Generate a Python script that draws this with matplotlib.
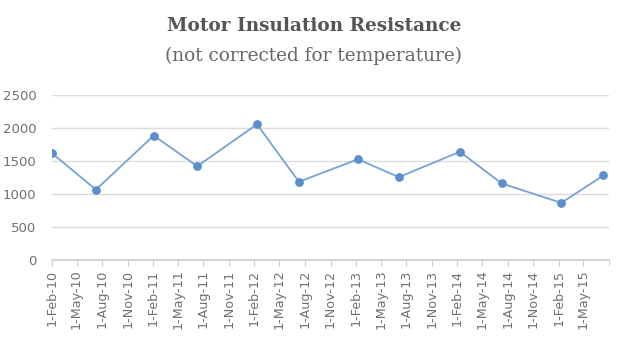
import matplotlib
matplotlib.use("Agg")
import matplotlib.pyplot as plt
import matplotlib.dates as mdates
import pandas as pd

dates = ["2010-02-01", "2010-07-10", "2011-02-03", "2011-07-10", "2012-02-10", "2012-07-10",
         "2013-02-08", "2013-07-05", "2014-02-10", "2014-07-10", "2015-02-10", "2015-07-12"]
values = [1620, 1065, 1885, 1420, 2055, 1185, 1525, 1255, 1640, 1160, 865, 1280]
tick_dates = pd.date_range("2010-02-01", "2015-05-01", freq="3MS")
yticks = [0, 500, 1000, 1500, 2000, 2500]

title = "Motor Insulation Resistance"
subtitle = "(not corrected for temperature)"

x = pd.to_datetime(dates)

fig = plt.figure(figsize=(6.24, 3.38), dpi=100)
ax = fig.add_axes([0.083, 0.231, 0.893, 0.488])

ax.plot(x, values, color="#74a3d4", linewidth=1.3, marker="o", markersize=5.3,
        markerfacecolor="#5b8fcc", markeredgecolor="#5b8fcc", zorder=3)

ax.set_xlim(pd.Timestamp("2010-02-01"), pd.Timestamp("2015-08-01"))
ax.set_ylim(0, 2500)
ax.set_yticks(yticks)
ax.set_xticks(tick_dates)
ax.set_xticks([pd.Timestamp("2015-08-01")], minor=True)
ax.xaxis.set_major_formatter(mdates.DateFormatter("1-%b-%y"))
for lbl in ax.get_xticklabels():
    lbl.set_rotation(90)

ax.grid(axis="y", color="#dcdcdc", linewidth=1)
ax.set_axisbelow(True)
for s in ["top", "right", "left"]:
    ax.spines[s].set_visible(False)
ax.spines["bottom"].set_color("#cccccc")
ax.spines["bottom"].set_linewidth(1.2)
ax.tick_params(axis="y", length=0, labelsize=9.5, labelcolor="#707070", pad=11)
ax.tick_params(axis="x", which="both", length=4, color="#cccccc", labelsize=9.2, labelcolor="#707070", pad=3)

fig.text(0.503, 0.922, title, ha="center", va="center", fontsize=13.3, fontweight="bold",
         family="DejaVu Serif", color="#555555")
fig.text(0.503, 0.835, subtitle, ha="center", va="center", fontsize=13.3,
         family="DejaVu Serif", color="#666666")

fig.savefig("out.png", dpi=100, facecolor="white")
